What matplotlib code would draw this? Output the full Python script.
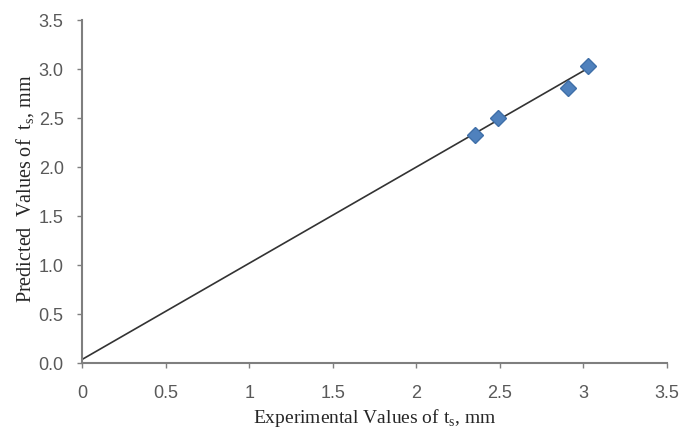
import matplotlib.pyplot as plt

# measured vs predicted thickness t_s (mm)
experimental = [2.35, 2.49, 2.91, 3.03]
predicted = [2.33, 2.50, 2.81, 3.03]

# fitted line end points
fit_x = [0.0, 3.02]
fit_y = [0.04, 3.0]

x_ticks = [0, 0.5, 1, 1.5, 2, 2.5, 3, 3.5]
x_tick_labels = ["0", "0.5", "1", "1.5", "2", "2.5", "3", "3.5"]
y_ticks = [0.0, 0.5, 1.0, 1.5, 2.0, 2.5, 3.0, 3.5]
y_tick_labels = ["0.0", "0.5", "1.0", "1.5", "2.0", "2.5", "3.0", "3.5"]

AXIS_GRAY = "#7f7f7f"
TICK_TEXT = "#595959"
LABEL_TEXT = "#262626"

fig = plt.figure(figsize=(6.81, 4.36), dpi=100)
ax = fig.add_axes([0.121, 0.167, 0.858, 0.787])

ax.plot(fit_x, fit_y, color="#333333", linewidth=1.2, zorder=2)
ax.plot(experimental, predicted, linestyle="none", marker="D", markersize=8,
        color="#4f81bd", markeredgecolor="#3f6fa8", zorder=3)

ax.set_xlim(0, 3.5)
ax.set_ylim(0, 3.5)
ax.set_xticks(x_ticks)
ax.set_xticklabels(x_tick_labels)
ax.set_yticks(y_ticks)
ax.set_yticklabels(y_tick_labels)

for side in ("top", "right"):
    ax.spines[side].set_visible(False)
for side in ("left", "bottom"):
    ax.spines[side].set_color(AXIS_GRAY)
    ax.spines[side].set_linewidth(1.5)

ax.tick_params(direction="out", length=3.5, width=1, color=AXIS_GRAY,
               labelcolor=TICK_TEXT, labelsize=13, pad=10)
ax.tick_params(axis="x", pad=12)
for lbl in ax.get_xticklabels() + ax.get_yticklabels():
    lbl.set_family("Liberation Sans")

ax.set_xlabel("Experimental Values of t$_\\mathregular{s}$, mm", family="Liberation Serif",
              fontsize=14, color=LABEL_TEXT)
ax.set_ylabel("Predicted  Values of  t$_\\mathregular{s}$, mm", family="Liberation Serif",
              fontsize=14.5, color=LABEL_TEXT)
ax.xaxis.label.set_va("center")
ax.yaxis.label.set_va("center")
ax.xaxis.set_label_coords(0.5, -0.16)
ax.yaxis.set_label_coords(-0.098, 0.51)

fig.savefig("out.png", dpi=100)
